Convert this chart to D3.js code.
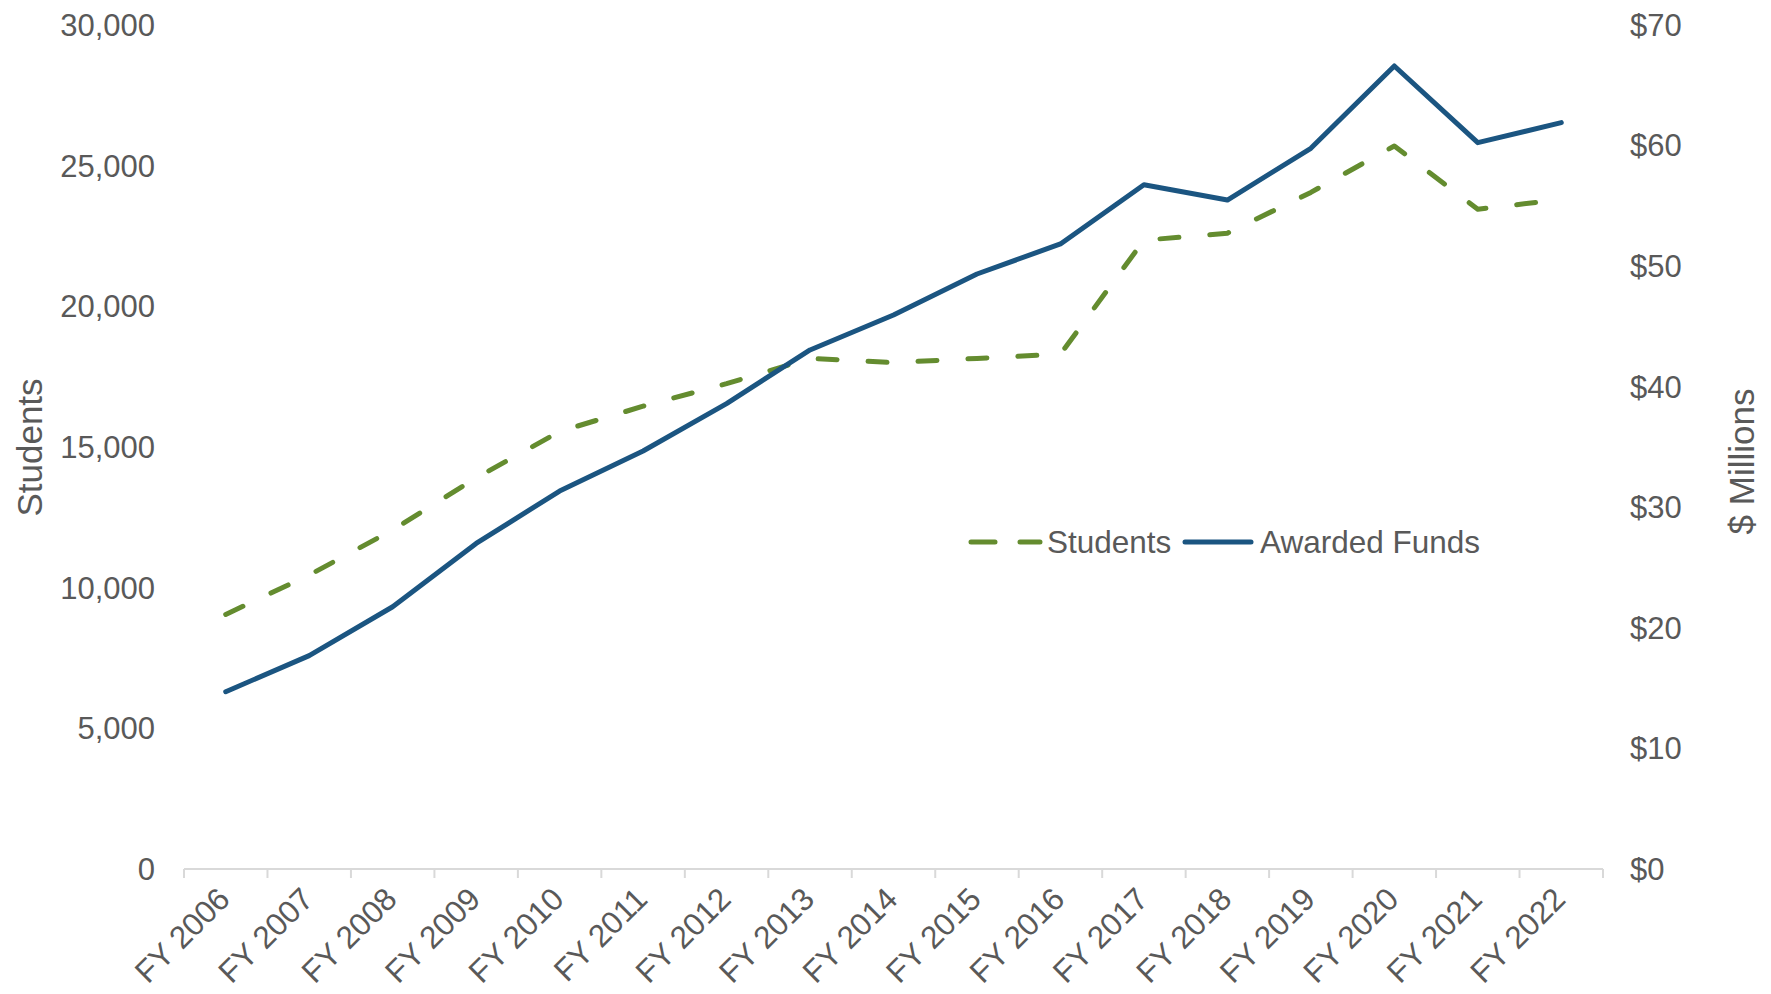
<!DOCTYPE html>
<html>
<head>
<meta charset="utf-8">
<script src="https://cdn.jsdelivr.net/npm/d3@7"></script>
<style>
  html, body { margin: 0; padding: 0; background: #fff; }
  svg text { font-family: "Liberation Sans", Arial, sans-serif; fill: #595959; }
</style>
</head>
<body>
<div id="chart"></div>
<script>
// fiscal years on the x axis
const years = ['FY 2006', 'FY 2007', 'FY 2008', 'FY 2009', 'FY 2010', 'FY 2011', 'FY 2012', 'FY 2013',
    'FY 2014', 'FY 2015', 'FY 2016', 'FY 2017', 'FY 2018', 'FY 2019', 'FY 2020', 'FY 2021', 'FY 2022'];
// students (left axis)
const students = [9050, 10450, 12050, 13900, 15550, 16450, 17250, 18150, 18000, 18150, 18300,
    22350, 22600, 24050, 25700, 23450, 23800];
// awarded funds, $ millions (right axis)
const funds = [14.7, 17.7, 21.75, 27.0, 31.35, 34.67, 38.6, 43.05, 45.95, 49.35, 51.84,
    56.75, 55.48, 59.77, 66.6, 60.24, 61.9];
const leftTicks = [0, 5000, 10000, 15000, 20000, 25000, 30000];
const rightTicks = [0, 10, 20, 30, 40, 50, 60, 70];

const width = 1771,
    height = 994;
const plot = { left: 184, right: 1603, top: 25, bottom: 869 };

const studentsColor = '#648c2f',
    fundsColor = '#1b5581';
const lineWidth = 5;

const svg = d3.select('#chart').append('svg')
    .attr('width', width)
    .attr('height', height);

const x = d3.scaleBand()
    .domain(years)
    .range([plot.left, plot.right])
    .paddingInner(0)
    .paddingOuter(0);

const yLeft = d3.scaleLinear().domain([0, 30000]).range([plot.bottom, plot.top]);
const yRight = d3.scaleLinear().domain([0, 70]).range([plot.bottom, plot.top]);

// left axis labels
svg.append('g')
    .selectAll('text')
    .data(leftTicks)
    .enter()
    .append('text')
    .attr('x', 155)
    .attr('y', d => yLeft(d))
    .attr('dy', '0.35em')
    .attr('text-anchor', 'end')
    .style('font-size', '31px')
    .text(d => d3.format(',')(d));

// right axis labels
svg.append('g')
    .selectAll('text')
    .data(rightTicks)
    .enter()
    .append('text')
    .attr('x', 1630)
    .attr('y', d => yRight(d))
    .attr('dy', '0.35em')
    .attr('text-anchor', 'start')
    .style('font-size', '31px')
    .text(d => '$' + d);

// axis titles
svg.append('text')
    .attr('transform', 'translate(42,447.5) rotate(-90)')
    .attr('text-anchor', 'middle')
    .style('font-size', '35px')
    .text('Students');

svg.append('text')
    .attr('transform', 'translate(1754,461.5) rotate(-90)')
    .attr('text-anchor', 'middle')
    .style('font-size', '35px')
    .text('$ Millions');

// x axis line + tick marks between categories
const xAxis = svg.append('g');
xAxis.append('line')
    .attr('x1', plot.left).attr('x2', plot.right)
    .attr('y1', plot.bottom).attr('y2', plot.bottom)
    .attr('stroke', '#d9d9d9')
    .attr('stroke-width', 2);

const tickEdges = years.map(d => x(d)).concat([plot.right]);
xAxis.selectAll('.tick')
    .data(tickEdges)
    .enter()
    .append('line')
    .attr('class', 'tick')
    .attr('x1', d => d).attr('x2', d => d)
    .attr('y1', plot.bottom).attr('y2', plot.bottom + 9)
    .attr('stroke', '#d9d9d9')
    .attr('stroke-width', 2);

xAxis.selectAll('.lbl')
    .data(years)
    .enter()
    .append('text')
    .attr('class', 'lbl')
    .attr('transform', d => 'translate(' + (x(d) + x.bandwidth() / 2 + 6) + ',' + (plot.bottom + 32) + ') rotate(-45)')
    .attr('text-anchor', 'end')
    .style('font-size', '31.5px')
    .text(d => d);

// lines
const lineStudents = d3.line()
    .x((d, i) => x(years[i]) + x.bandwidth() / 2)
    .y(d => yLeft(d));

const lineFunds = d3.line()
    .x((d, i) => x(years[i]) + x.bandwidth() / 2)
    .y(d => yRight(d));

svg.append('path')
    .datum(students)
    .attr('d', lineStudents)
    .attr('fill', 'none')
    .attr('stroke', studentsColor)
    .attr('stroke-width', lineWidth)
    .attr('stroke-dasharray', '19,31')
    .attr('stroke-linecap', 'round')
    .attr('stroke-linejoin', 'round');

svg.append('path')
    .datum(funds)
    .attr('d', lineFunds)
    .attr('fill', 'none')
    .attr('stroke', fundsColor)
    .attr('stroke-width', lineWidth)
    .attr('stroke-linecap', 'round')
    .attr('stroke-linejoin', 'round');

// legend
const legend = svg.append('g');
legend.append('line')
    .attr('x1', 971).attr('x2', 1040)
    .attr('y1', 542).attr('y2', 542)
    .attr('stroke', studentsColor)
    .attr('stroke-width', lineWidth)
    .attr('stroke-dasharray', '24,25')
    .attr('stroke-linecap', 'round');
legend.append('text')
    .attr('x', 1047).attr('y', 542)
    .attr('dy', '0.35em')
    .style('font-size', '31.5px')
    .text('Students');

legend.append('line')
    .attr('x1', 1185).attr('x2', 1251)
    .attr('y1', 542).attr('y2', 542)
    .attr('stroke', fundsColor)
    .attr('stroke-width', lineWidth)
    .attr('stroke-linecap', 'round');
legend.append('text')
    .attr('x', 1260).attr('y', 542)
    .attr('dy', '0.35em')
    .style('font-size', '31.5px')
    .text('Awarded Funds');
</script>
</body>
</html>
